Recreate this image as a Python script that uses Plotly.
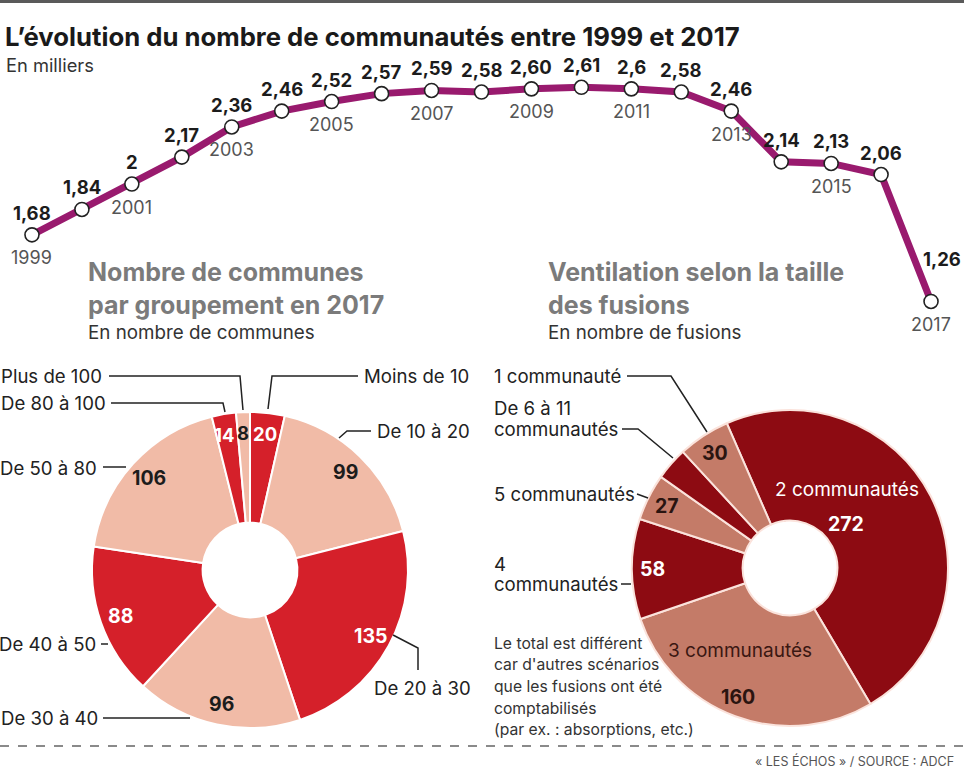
import numpy as np
import plotly.graph_objects as go

W, H = 964, 768

# ---------------- data ----------------
years = list(range(1999, 2018))
values = [1.68, 1.84, 2.00, 2.17, 2.36, 2.46, 2.52, 2.57, 2.59, 2.58,
          2.60, 2.61, 2.60, 2.58, 2.46, 2.14, 2.13, 2.06, 1.26]
value_labels = ["1,68", "1,84", "2", "2,17", "2,36", "2,46", "2,52", "2,57", "2,59", "2,58",
                "2,60", "2,61", "2,6", "2,58", "2,46", "2,14", "2,13", "2,06", "1,26"]
year_labels = [str(y) if y % 2 == 1 else "" for y in years]

communes_cats = ["Moins de 10", "De 10 à 20", "De 20 à 30", "De 30 à 40",
                 "De 40 à 50", "De 50 à 80", "De 80 à 100", "Plus de 100"]
communes_vals = [20, 99, 135, 96, 88, 106, 14, 8]

fusions_cats = ["2 communautés", "3 communautés", "4 communautés",
                "5 communautés", "De 6 à 11 communautés", "1 communauté"]
fusions_vals = [272, 160, 58, 27, 19, 30]

# ---------------- styles ----------------
FONT = "Inter"
PURPLE = "#991a6e"
RED = "#d5202a"
SALMON = "#f1bba7"
DARKRED = "#8d0b12"
BROWN = "#c47b68"
DARK = "#1c1c1c"
GREY = "#555555"


def px(x):
    return x / W


def py(y):
    return 1 - y / H


fig = go.Figure()

# ---------------- line chart ----------------
fig.add_trace(go.Scatter(
    x=years, y=values, mode="lines+markers",
    line=dict(color=PURPLE, width=7),
    marker=dict(size=14, color="white", line=dict(color="#222", width=1.6)),
    hoverinfo="skip", xaxis="x", yaxis="y"))

annotations = []
last = len(years) - 1
for i, (yr, v, lab) in enumerate(zip(years, values, value_labels)):
    annotations.append(dict(
        x=yr, y=v, xref="x", yref="y", text=lab, showarrow=False,
        xanchor="center", yanchor="middle",
        yshift=42 if i == last else 22, xshift=11 if i == last else 0,
        font=dict(family=FONT, size=18.5, color=DARK, weight="bold")))
    if year_labels[i]:
        annotations.append(dict(
            x=yr, y=v, xref="x", yref="y", text=year_labels[i], showarrow=False,
            xanchor="center", yanchor="middle",
            yshift=-23, font=dict(family=FONT, size=18, color=GREY)))

# ---------------- donuts ----------------
R = 158
pie1_c = (250, 570)
pie2_c = (790, 568)
pie1_rot = 0
pie2_rot = -23.6


def dom(c):
    return dict(x=[px(c[0] - R), px(c[0] + R)], y=[py(c[1] + R), py(c[1] - R)])


fig.add_trace(go.Pie(
    labels=communes_cats, values=communes_vals, sort=False, direction="clockwise",
    rotation=pie1_rot, hole=0.30, textinfo="none", hoverinfo="label+value",
    marker=dict(colors=[RED, SALMON, RED, SALMON, RED, SALMON, RED, SALMON],
                line=dict(color="white", width=2)),
    domain=dom(pie1_c), showlegend=False))

fig.add_trace(go.Pie(
    labels=fusions_cats, values=fusions_vals, sort=False, direction="clockwise",
    rotation=pie2_rot, hole=0.30, textinfo="none", hoverinfo="label+value",
    marker=dict(colors=[DARKRED, BROWN, DARKRED, BROWN, DARKRED, BROWN],
                line=dict(color="#fbe3dc", width=2)),
    domain=dom(pie2_c), showlegend=False))


def mid_positions(vals, rot, c, r):
    v = np.array(vals, dtype=float)
    cum = np.concatenate([[0], np.cumsum(v)[:-1]])
    ang = np.deg2rad(rot + (cum + v / 2) / v.sum() * 360)
    return c[0] + r * np.sin(ang), c[1] - r * np.cos(ang)


def label(x, y, s, size, color, bold=True, xshift=0):
    annotations.append(dict(
        x=px(x), y=py(y), xref="paper", yref="paper", text=s, showarrow=False,
        xanchor="center", yanchor="middle", xshift=xshift,
        font=dict(family=FONT, size=size, color=color,
                  weight="bold" if bold else "normal")))


# labels inside donut 1
xs, ys = mid_positions(communes_vals, pie1_rot, pie1_c, 0.868 * R)
txtcol1 = ["white", DARK, "white", DARK, "white", DARK, "white", DARK]
nudge1 = [0, 0, 0, 0, 0, 0, -3, -1]
for k, val in enumerate(communes_vals):
    label(xs[k], ys[k], str(val), 19.5 if val > 30 else 18.5, txtcol1[k], xshift=nudge1[k])

# labels inside donut 2
xs2, ys2 = mid_positions(fusions_vals, pie2_rot, pie2_c, 0.868 * R)
txtcol2 = ["white", "#2a1410", "white", "#2a1410", "white", "#2a1410"]
for k, val in enumerate(fusions_vals):
    if k == 4:
        continue
    if k == 0:
        x0, y0 = 846, 524
    elif k == 1:
        x0, y0 = 738, 697
    else:
        x0, y0 = xs2[k], ys2[k]
    label(x0, y0, str(val), 19.5, txtcol2[k])

label(847, 489, fusions_cats[0], 19, "white", bold=False)
label(740, 650, fusions_cats[1], 19, "#3a1712", bold=False)


# ---------------- text blocks ----------------
def txt(x, y, s, size, color=DARK, bold=False, anchor="left"):
    annotations.append(dict(
        x=px(x), y=py(y), xref="paper", yref="paper", text=s, showarrow=False,
        xanchor=anchor, yanchor="middle", align="left",
        font=dict(family=FONT, size=size, color=color, weight="bold" if bold else "normal")))


txt(3, 36, "L’évolution du nombre de communautés entre 1999 et 2017", 25.7, "#1a1a1a", True)
txt(4, 65, "En milliers", 18.3, "#333")

TG = "#7b7b7b"
txt(86, 289, "Nombre de communes<br>par groupement en 2017", 25, TG, True)
txt(86, 332, "En nombre de communes", 18.8, "#333")

txt(546, 289, "Ventilation selon la taille<br>des fusions", 25, TG, True)
txt(546, 332, "En nombre de fusions", 18.8, "#333")

OUT = 18.6
# donut 1 outside labels
txt(104, 376, "Plus de 100", OUT, "#222", anchor="right")
txt(108, 403, "De 80 à 100", OUT, "#222", anchor="right")
txt(99, 468, "De 50 à 80", OUT, "#222", anchor="right")
txt(98, 644, "De 40 à 50", OUT, "#222", anchor="right")
txt(100, 718, "De 30 à 40", OUT, "#222", anchor="right")
txt(362, 376, "Moins de 10", OUT, "#222")
txt(375, 431, "De 10 à 20", OUT, "#222")
txt(372, 688, "De 20 à 30", OUT, "#222")

# donut 2 outside labels
txt(492, 376, "1 communauté", OUT, "#222")
txt(492, 408, "De 6 à 11", OUT, "#222")
txt(492, 429, "communautés", OUT, "#222")
txt(492, 494, "5 communautés", OUT, "#222")
txt(492, 564, "4", OUT, "#222")
txt(492, 584, "communautés", OUT, "#222")

note = ["Le total est différent", "car d'autres scénarios", "que les fusions ont été",
        "comptabilisés", "(par ex. : absorptions, etc.)"]
for j, line in enumerate(note):
    txt(492, 643 + j * 21.7, line, 15.7, "#333")

txt(956, 761, "« LES ÉCHOS » / SOURCE : ADCF", 12.5, "#555", anchor="right")


# ---------------- leader lines & rules ----------------
def path(points):
    d = "M " + " L ".join(f"{px(a):.5f},{py(b):.5f}" for a, b in points)
    return dict(type="path", path=d, xref="paper", yref="paper",
                line=dict(color="#222", width=1.5))


shapes = [
    path([(109, 376), (240, 376), (243, 410)]),
    path([(111, 403), (223, 403), (225, 412)]),
    path([(103, 467), (126, 467)]),
    path([(101, 644), (108, 644)]),
    path([(103, 718), (190, 718)]),
    path([(358, 376), (272, 376), (268, 409)]),
    path([(371, 431), (347, 431), (339, 438)]),
    path([(393, 635), (418, 648), (418, 670)]),
    path([(627, 376), (671, 376), (707, 432)]),
    path([(622, 429), (638, 429), (673, 458)]),
    path([(637, 494), (648, 498)]),
    path([(621, 584), (631, 584)]),
    dict(type="rect", x0=0, x1=1, y0=py(3), y1=1, xref="paper", yref="paper",
         fillcolor="#5a5a5a", line=dict(width=0)),
    dict(type="line", x0=0, x1=1, y0=py(746), y1=py(746), xref="paper", yref="paper",
         line=dict(color="#8a8a8a", width=2, dash="dash")),
]

fig.update_layout(
    width=W, height=H, margin=dict(l=0, r=0, t=0, b=0),
    paper_bgcolor="white", plot_bgcolor="white", showlegend=False,
    font=dict(family=FONT),
    xaxis=dict(domain=[px(2), px(961)], range=[1998.4, 2017.6], visible=False, fixedrange=True),
    yaxis=dict(domain=[py(311), py(73)], range=[1.2, 2.7], visible=False, fixedrange=True),
    annotations=annotations, shapes=shapes)

fig.write_html("out.html")
